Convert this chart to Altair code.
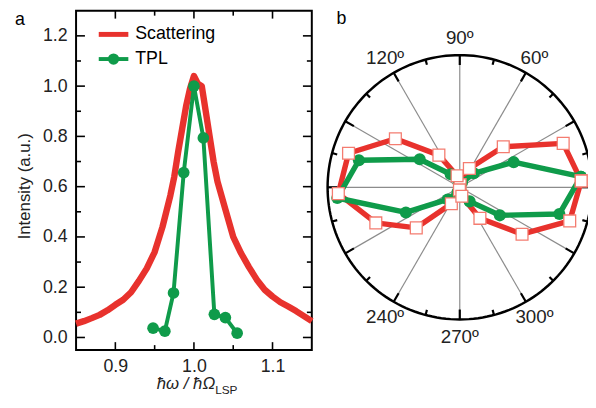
import altair as alt
import pandas as pd

# ---------------- Panel a : spectra ----------------
scat_x = [0.85, 0.86, 0.87, 0.88, 0.89, 0.90, 0.91, 0.92, 0.93, 0.94, 0.95, 0.96,
          0.97, 0.975, 0.98, 0.985, 0.99, 0.995, 1.0, 1.005, 1.01, 1.015, 1.02,
          1.025, 1.03, 1.04, 1.05, 1.06, 1.07, 1.08, 1.09, 1.10, 1.11, 1.12, 1.13,
          1.14, 1.15]
scat_y = [0.055, 0.065, 0.077, 0.090, 0.108, 0.130, 0.150, 0.180, 0.225, 0.275,
          0.340, 0.440, 0.565, 0.640, 0.740, 0.830, 0.920, 0.990, 1.040, 1.010,
          1.000, 0.900, 0.800, 0.700, 0.620, 0.510, 0.400, 0.335, 0.280, 0.230,
          0.190, 0.163, 0.140, 0.123, 0.105, 0.085, 0.065]
tpl_x = [0.948, 0.963, 0.974, 0.987, 1.000, 1.012, 1.026, 1.040, 1.055]
tpl_y = [0.037, 0.025, 0.177, 0.656, 1.000, 0.794, 0.092, 0.079, 0.017]

x_major = [0.9, 1.0, 1.1]
x_minor = [0.95, 1.05]
y_major = [0.0, 0.2, 0.4, 0.6, 0.8, 1.0, 1.2]
y_minor = [0.1, 0.3, 0.5, 0.7, 0.9, 1.1]

# ---------------- Panel b : polar plot ----------------
scat_ang = [3, 23, 43, 63, 83, 103, 123, 143, 163, 183, 203, 223, 243, 263, 283, 303, 323, 343]
scat_r = [0.92, 0.85, 0.45, 0.16, 0.02, 0.09, 0.29, 0.61, 0.88, 0.92, 0.69, 0.45,
          0.14, 0.02, 0.07, 0.28, 0.59, 0.87]
tpl_ang = [5, 25, 45, 65, 85, 105, 125, 145, 165, 185, 205, 225, 245, 265, 285, 305, 325, 345]
tpl_r = [0.92, 0.45, 0.15, 0.04, 0.02, 0.03, 0.12, 0.37, 0.79, 0.93, 0.45, 0.13,
         0.04, 0.02, 0.03, 0.13, 0.37, 0.78]
spoke_angles = list(range(0, 360, 30))
tick_angles = list(range(0, 360, 15))
label_angles = [60, 90, 120, 240, 270, 300]

RED = '#e8322d'
GREEN = '#0f9b4a'
SQ_EDGE = '#f47c70'
FONT = 'Liberation Sans'
TXT = '#222222'
W, H = 239, 344

# ---------- left panel ----------
xs = alt.Scale(domain=[0.85, 1.15], nice=False, zero=False)
ys = alt.Scale(domain=[-0.05, 1.3], nice=False, zero=False)
xax = alt.Axis(values=x_major, format='.1f', title=None, labelPadding=8)
yax = alt.Axis(values=y_major, format='.1f', title=None, labelPadding=9)
X = alt.X('e:Q', scale=xs, axis=xax)
Y = alt.Y('i:Q', scale=ys, axis=yax)

scat_df = pd.DataFrame({'e': scat_x, 'i': scat_y})
tpl_df = pd.DataFrame({'e': tpl_x, 'i': tpl_y})

scat_line = alt.Chart(scat_df).mark_line(color=RED, strokeWidth=6.5, strokeJoin='round').encode(x=X, y=Y)
tpl_line = alt.Chart(tpl_df).mark_line(color=GREEN, strokeWidth=4).encode(x=X, y=Y)
tpl_pts = alt.Chart(tpl_df).mark_circle(color=GREEN, size=140, opacity=1).encode(x=X, y=Y)


def xticks(vals, L):
    b = alt.Chart(pd.DataFrame({'e': vals})).mark_rule(color='black', strokeWidth=1.6)
    return [b.encode(x=X, y=alt.value(H), y2=alt.value(H - L)),
            b.encode(x=X, y=alt.value(0), y2=alt.value(L))]


def yticks(vals, L):
    b = alt.Chart(pd.DataFrame({'i': vals})).mark_rule(color='black', strokeWidth=1.6)
    return [b.encode(y=Y, x=alt.value(0), x2=alt.value(L)),
            b.encode(y=Y, x=alt.value(W), x2=alt.value(W - L))]


ticks = xticks(x_major, 8) + xticks(x_minor, 5) + yticks(y_major, 9) + yticks(y_minor, 5)

one = pd.DataFrame({'k': [0]})
leg_red = alt.Chart(one).mark_rule(color=RED, strokeWidth=5).encode(
    x=alt.value(23), x2=alt.value(53), y=alt.value(24))
leg_green = alt.Chart(one).mark_rule(color=GREEN, strokeWidth=4).encode(
    x=alt.value(23), x2=alt.value(53), y=alt.value(49))
leg_gpt = alt.Chart(one).mark_circle(color=GREEN, size=130, opacity=1).encode(
    x=alt.value(38), y=alt.value(49))


def label(txt, x, y, size=16, angle=0, align='left', style='normal', color='black', baseline='middle'):
    return alt.Chart(one).mark_text(text=txt, font=FONT, fontSize=size, angle=angle, align=align,
                                    baseline=baseline, fontStyle=style, color=color).encode(
        x=alt.value(x), y=alt.value(y))


texts = [
    label('Scattering', 60, 24, size=18),
    label('TPL', 60, 49, size=18),
    label('Intensity (a.u.)', -52, 178, size=17, angle=270, align='center', color=TXT),
    label('ħω / ħΩ', 141, 384, size=17, align='right', style='italic', color=TXT, baseline='alphabetic'),
    label('LSP', 141, 389, size=12, align='left', color=TXT, baseline='alphabetic'),
    label('a', -62, 9, size=18),
    label('b', 264, 8, size=18),
]

left = alt.layer(scat_line, tpl_line, tpl_pts, *ticks, leg_red, leg_green, leg_gpt, *texts)

# ---------- right panel (polar) ----------
pxs = alt.Scale(domain=[-1, 1], range=[255, 523], nice=False, zero=False)
pys = alt.Scale(domain=[-1, 1], range=[313, 45], nice=False, zero=False)
PX = alt.X('px:Q', scale=pxs, axis=None)
PY = alt.Y('py:Q', scale=pys, axis=None)

circle = alt.Chart(pd.DataFrame({'a': list(range(0, 362, 2))})).transform_calculate(
    px='cos(datum.a*PI/180)', py='sin(datum.a*PI/180)'
).mark_line(color='black', strokeWidth=2.5).encode(x=PX, y=PY, order='a:Q')

spokes = alt.Chart(pd.DataFrame({'a': spoke_angles})).transform_calculate(
    px='0', py='0', px2='cos(datum.a*PI/180)', py2='sin(datum.a*PI/180)'
).mark_rule(color='#8c8c8c', strokeWidth=1.2).encode(x=PX, y=PY, x2='px2:Q', y2='py2:Q')

rim_ticks = alt.Chart(pd.DataFrame({'a': tick_angles})).transform_calculate(
    ri='datum.a % 30 == 0 ? 0.925 : 0.96'
).transform_calculate(
    px='datum.ri*cos(datum.a*PI/180)', py='datum.ri*sin(datum.a*PI/180)',
    px2='cos(datum.a*PI/180)', py2='sin(datum.a*PI/180)'
).mark_rule(color='black', strokeWidth=2.2).encode(x=PX, y=PY, x2='px2:Q', y2='py2:Q')

ang_labels = alt.Chart(pd.DataFrame({'a': label_angles})).transform_calculate(
    px='1.13*cos(datum.a*PI/180)', py='1.13*sin(datum.a*PI/180)', lbl="datum.a + 'º'"
).mark_text(font=FONT, fontSize=19, color=TXT, align='center', baseline='middle').encode(
    x=PX, y=PY, text='lbl:N')


def polar_df(ang, r):
    return pd.DataFrame({'ang': ang + [ang[0] + 360], 'r': r + [r[0]],
                         'ord': list(range(len(ang) + 1))})


def xy(ch):
    return ch.transform_calculate(px='datum.r*cos(datum.ang*PI/180)',
                                  py='datum.r*sin(datum.ang*PI/180)')


sdf = polar_df(scat_ang, scat_r)
gdf = polar_df(tpl_ang, tpl_r)

red_line = xy(alt.Chart(sdf)).mark_line(color=RED, strokeWidth=5.5, strokeJoin='round').encode(
    x=PX, y=PY, order='ord:Q')
red_sq = xy(alt.Chart(sdf)).mark_point(shape='square', filled=True, fill='white', stroke=SQ_EDGE,
                                       strokeWidth=1.3, size=144, opacity=1).encode(x=PX, y=PY)
green_line = xy(alt.Chart(gdf)).mark_line(color=GREEN, strokeWidth=5.5, strokeJoin='round').encode(
    x=PX, y=PY, order='ord:Q')
green_pts = xy(alt.Chart(gdf)).mark_circle(color=GREEN, size=150, opacity=1).encode(x=PX, y=PY)

polar = alt.layer(spokes, rim_ticks, circle, ang_labels, red_line, green_line, green_pts, red_sq)

chart = alt.layer(left, polar).resolve_scale(x='independent', y='independent').properties(
    width=W, height=H,
    autosize=alt.AutoSizeParams(type='none'),
    padding={'left': 69, 'top': 0, 'right': 280, 'bottom': 56},
).configure_view(stroke='black', strokeWidth=2).configure_axis(
    labelFont=FONT, labelFontSize=18, labelColor=TXT, ticks=False, domain=False, grid=False
)

chart.save('out.html', embed_options={'renderer': 'svg', 'actions': False})
